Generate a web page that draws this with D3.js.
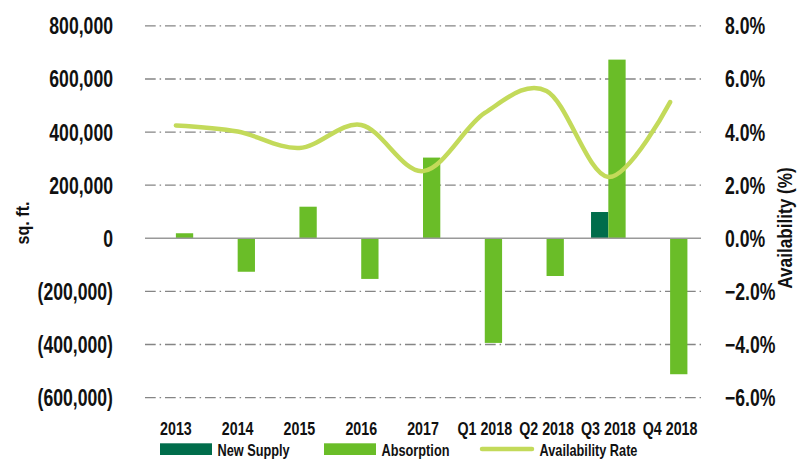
<!DOCTYPE html>
<html>
<head>
<meta charset="utf-8">
<title>Absorption, New Supply and Availability</title>
<style>
  body { margin: 0; background: #fff; }
  text { font-family: "Liberation Sans", Arial, sans-serif; font-weight: bold; fill: #111; }
</style>
</head>
<body>
<div id="chart"></div>
<script src="https://cdn.jsdelivr.net/npm/d3@7"></script>
<script>
// data
const categories = ['2013', '2014', '2015', '2016', '2017', 'Q1 2018', 'Q2 2018', 'Q3 2018', 'Q4 2018']
const newSupply = [0, 0, 0, 0, 0, 0, 0, 99000, 0]
const absorption = [19000, -126000, 119000, -153000, 304000, -394000, -142000, 673000, -512000]
const availabilityRate = [4.25, 4.02, 3.40, 4.27, 2.53, 4.72, 5.55, 2.31, 5.13]
const leftTicks = [-600000, -400000, -200000, 0, 200000, 400000, 600000, 800000]
const rightTicks = [-6, -4, -2, 0, 2, 4, 6, 8]

const width = 801, height = 460
const plot = { left: 145, right: 701, top: 25.9, bottom: 397.6 }
const SX = 0.75   // horizontal squeeze to mimic the condensed face

const svg = d3.select('#chart').append('svg')
  .attr('width', width)
  .attr('height', height)

// place a text at (px,py), squeezed horizontally
const at = (px, py) => `translate(${px},${py}) scale(${SX},1)`

const x = d3.scaleBand()
  .domain(categories)
  .range([plot.left, plot.right])
  .padding(0)

const barW = 17.3
const x1 = d3.scaleBand()
  .domain(['New Supply', 'Absorption'])
  .range([x.bandwidth() / 2 - barW, x.bandwidth() / 2 + barW])

const y = d3.scaleLinear().domain([-600000, 800000]).range([plot.bottom, plot.top])
const y2 = d3.scaleLinear().domain([-6, 8]).range([plot.bottom, plot.top])

// gridlines (dash-dot), zero line solid
svg.append('g')
  .selectAll('line')
  .data(leftTicks.filter(d => d !== 0))
  .join('line')
    .attr('x1', plot.left)
    .attr('x2', plot.right)
    .attr('y1', d => y(d))
    .attr('y2', d => y(d))
    .attr('stroke', '#858585')
    .attr('stroke-width', 1.3)
    .attr('stroke-dasharray', '10.7,3.9,1.5,3.9')

// left axis labels
const fmtLeft = d => d < 0 ? '(' + d3.format(',')(-d) + ')' : d3.format(',')(d)
svg.append('g')
  .selectAll('text')
  .data(leftTicks)
  .join('text')
    .attr('transform', d => at(113, y(d)))
    .attr('dy', '0.36em')
    .attr('text-anchor', 'end')
    .style('font-size', '23.5px')
    .text(fmtLeft)

// right axis labels
svg.append('g')
  .selectAll('text')
  .data(rightTicks)
  .join('text')
    .attr('transform', d => at(725, y2(d)))
    .attr('dy', '0.36em')
    .style('font-size', '23.5px')
    .text(d => d3.format('.1f')(d) + '%')

// axis titles
svg.append('text')
  .attr('transform', 'translate(29,223) rotate(-90) scale(0.85,1)')
  .attr('text-anchor', 'middle')
  .style('font-size', '19px')
  .text('sq. ft.')

svg.append('text')
  .attr('transform', 'translate(792,228) rotate(-90) scale(0.88,1)')
  .attr('text-anchor', 'middle')
  .style('font-size', '19.5px')
  .text('Availability (%)')

// bars
const rows = categories.map((c, i) => ({ cat: c, 'New Supply': newSupply[i], 'Absorption': absorption[i] }))
const colors = { 'New Supply': '#006d4b', 'Absorption': '#6abd28' }

svg.append('g')
  .selectAll('g')
  .data(rows)
  .join('g')
    .attr('transform', d => `translate(${x(d.cat)},0)`)
  .selectAll('rect')
  .data(d => ['New Supply', 'Absorption'].map(k => ({ key: k, value: d[k] })).filter(d => d.value !== 0))
  .join('rect')
    .attr('x', d => x1(d.key))
    .attr('width', x1.bandwidth())
    .attr('y', d => y(Math.max(0, d.value)))
    .attr('height', d => Math.abs(y(d.value) - y(0)))
    .attr('fill', d => colors[d.key])

// zero line
svg.append('line')
  .attr('x1', plot.left)
  .attr('x2', plot.right)
  .attr('y1', y(0))
  .attr('y2', y(0))
  .attr('stroke', '#999')
  .attr('stroke-width', 1.5)

// availability line
const line = d3.line()
  .x((d, i) => x(categories[i]) + x.bandwidth() / 2)
  .y(d => y2(d))
  .curve(d3.curveCardinal.tension(0))

svg.append('path')
  .datum(availabilityRate)
  .attr('d', line)
  .attr('fill', 'none')
  .attr('stroke', '#c3da5a')
  .attr('stroke-width', 4.5)
  .attr('stroke-linecap', 'round')

// category labels
svg.append('g')
  .selectAll('text')
  .data(categories)
  .join('text')
    .attr('transform', d => at(x(d) + x.bandwidth() / 2, 434.5))
    .attr('text-anchor', 'middle')
    .style('font-size', '19px')
    .text(d => d)

// legend
const legend = svg.append('g')
legend.append('rect').attr('x', 160).attr('y', 443.3).attr('width', 52).attr('height', 11.7).attr('fill', colors['New Supply'])
legend.append('text').attr('transform', at(217.5, 455.5)).style('font-size', '17px').text('New Supply')
legend.append('rect').attr('x', 324).attr('y', 443.3).attr('width', 52).attr('height', 11.7).attr('fill', colors['Absorption'])
legend.append('text').attr('transform', at(381.5, 455.5)).style('font-size', '17px').text('Absorption')
legend.append('line').attr('x1', 482).attr('x2', 532).attr('y1', 449).attr('y2', 449)
  .attr('stroke', '#c3da5a').attr('stroke-width', 4.5).attr('stroke-linecap', 'round')
legend.append('text').attr('transform', at(539.5, 455.5)).style('font-size', '17px').text('Availability Rate')
</script>
</body>
</html>
